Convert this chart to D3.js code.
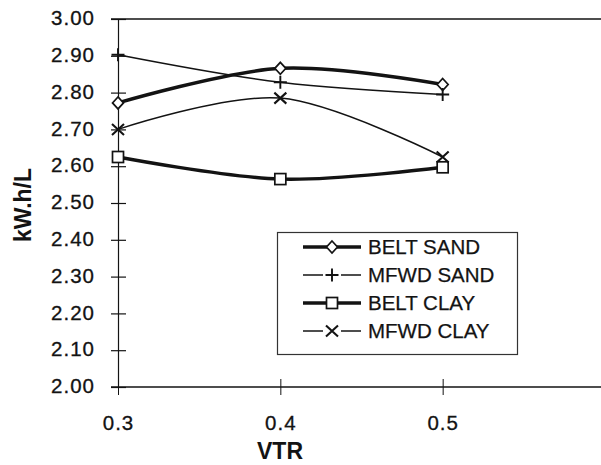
<!DOCTYPE html>
<html><head><meta charset="utf-8">
<script src="https://cdn.jsdelivr.net/npm/d3@7/dist/d3.min.js"></script>
<style>body{margin:0;background:#fff}svg{display:block;font-family:"Liberation Sans",Arial,sans-serif}</style>
</head><body>
<svg id="c" width="601" height="465"></svg>
<script>
const vtr = [0.3, 0.4, 0.5];
const beltSand = [2.772, 2.866, 2.822];
const mfwdSand = [2.903, 2.828, 2.795];
const beltClay = [2.625, 2.565, 2.597];
const mfwdClay = [2.700, 2.785, 2.625];
const seriesNames = ["BELT SAND", "MFWD SAND", "BELT CLAY", "MFWD CLAY"];
const yTicks = [2.00, 2.10, 2.20, 2.30, 2.40, 2.50, 2.60, 2.70, 2.80, 2.90, 3.00];
const xTicks = [0.3, 0.4, 0.5];

const series = [
  {name: seriesNames[0], values: beltSand, width: 3.4, marker: "diamond"},
  {name: seriesNames[1], values: mfwdSand, width: 1.5, marker: "plus"},
  {name: seriesNames[2], values: beltClay, width: 3.4, marker: "square"},
  {name: seriesNames[3], values: mfwdClay, width: 1.5, marker: "cross"}
];

const svg = d3.select("#c");
const ink = "#131313";
const x = d3.scaleLinear().domain([0.3, 0.6]).range([118, 605]);
const y = d3.scaleLinear().domain([2.0, 3.0]).range([387, 19]);

// axes
svg.append("line").attr("x1", 111).attr("x2", 601).attr("y1", y(3)).attr("y2", y(3)).attr("stroke", ink).attr("stroke-width", 1.3);
const yAxis = d3.axisLeft(y).tickValues(yTicks).tickFormat(d3.format(".2f")).tickSize(0).tickPadding(23);
const gy = svg.append("g").attr("transform", `translate(${x(0.3)},0)`).call(yAxis);
gy.select(".domain").attr("stroke", ink).attr("stroke-width", 1.2);
gy.selectAll(".tick text").attr("font-size", 20.5).attr("letter-spacing", 1).attr("fill", ink).attr("stroke", ink).attr("stroke-width", 0.3).attr("dy", "0.28em").attr("font-family", '"Liberation Sans",Arial,sans-serif');
gy.selectAll(".tick").append("line").attr("x1", -7).attr("x2", 8).attr("stroke", ink).attr("stroke-width", 1.2);

const xAxis = d3.axisBottom(x).tickValues(xTicks).tickFormat(d3.format(".1f")).tickSize(0).tickPadding(28);
const gx = svg.append("g").attr("transform", `translate(0,${y(2)})`).call(xAxis);
gx.select(".domain").remove();
gx.append("line").attr("x1", 111).attr("x2", 601).attr("stroke", ink).attr("stroke-width", 1.5);
gx.selectAll(".tick text").attr("font-size", 20.5).attr("letter-spacing", 1).attr("fill", ink).attr("stroke", ink).attr("stroke-width", 0.3).attr("font-family", '"Liberation Sans",Arial,sans-serif');
gx.selectAll(".tick").append("line").attr("y1", -8).attr("y2", 8).attr("stroke", ink).attr("stroke-width", 1);

// axis titles
svg.append("text").attr("x", 280).attr("y", 459).attr("text-anchor", "middle").attr("font-size", 23).attr("font-weight", "bold").attr("fill", ink).text("VTR");
svg.append("text").attr("transform", "translate(31,205) rotate(-90)").attr("text-anchor", "middle").attr("font-size", 23).attr("font-weight", "bold").attr("fill", ink).text("kW.h/L");

function drawMarker(g, type, cx, cy) {
  if (type === "diamond") {
    g.append("path").attr("d", `M${cx},${cy-6}L${cx+5.5},${cy}L${cx},${cy+6}L${cx-5.5},${cy}Z`).attr("fill", "#fff").attr("stroke", ink).attr("stroke-width", 1.7);
  } else if (type === "square") {
    g.append("rect").attr("x", cx-5.5).attr("y", cy-5.5).attr("width", 11).attr("height", 11).attr("fill", "#fff").attr("stroke", ink).attr("stroke-width", 1.7);
  } else if (type === "plus") {
    g.append("path").attr("d", `M${cx-6.5},${cy}H${cx+6.5}M${cx},${cy-6.5}V${cy+6.5}`).attr("stroke", ink).attr("stroke-width", 1.9);
  } else {
    g.append("path").attr("d", `M${cx-6},${cy-5.5}L${cx+6},${cy+5.5}M${cx-6},${cy+5.5}L${cx+6},${cy-5.5}`).attr("stroke", ink).attr("stroke-width", 2.1);
  }
}

const line = d3.line().x((d, i) => x(vtr[i])).y(d => y(d)).curve(d3.curveCatmullRom.alpha(0));
series.forEach(s => {
  svg.append("path").datum(s.values).attr("d", line).attr("fill", "none").attr("stroke", ink).attr("stroke-width", s.width).attr("stroke-linejoin", "round");
});
series.forEach(s => {
  const g = svg.append("g");
  s.values.forEach((v, i) => drawMarker(g, s.marker, x(vtr[i]), y(v)));
});

// legend
const lg = svg.append("g");
lg.append("rect").attr("x", 277.5).attr("y", 232.5).attr("width", 240).attr("height", 122).attr("fill", "#fff").attr("stroke", "#333").attr("stroke-width", 1.2);
series.forEach((s, i) => {
  const cy = 247 + i * 28;
  if (s.width > 2) {
    lg.append("line").attr("x1", 303).attr("x2", 361).attr("y1", cy).attr("y2", cy).attr("stroke", ink).attr("stroke-width", s.width);
  } else {
    lg.append("line").attr("x1", 303).attr("x2", 323).attr("y1", cy).attr("y2", cy).attr("stroke", ink).attr("stroke-width", s.width);
    lg.append("line").attr("x1", 341).attr("x2", 361).attr("y1", cy).attr("y2", cy).attr("stroke", ink).attr("stroke-width", s.width);
  }
  drawMarker(lg, s.marker, 332, cy);
  lg.append("text").attr("x", 368).attr("y", cy + 7).attr("font-size", 20.5).attr("fill", ink).attr("stroke", ink).attr("stroke-width", 0.25).text(s.name);
});
</script>
</body></html>
